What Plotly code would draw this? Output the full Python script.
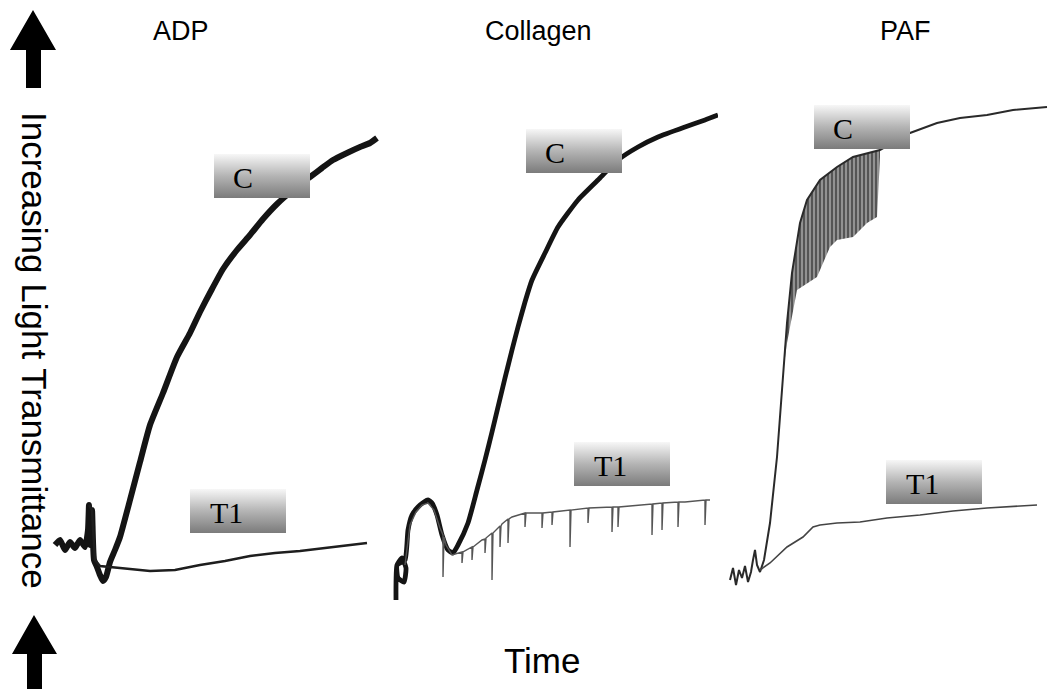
import plotly.graph_objects as go

W, H = 1048, 689

# ---------------- layout geometry (pixels) ----------------
PANEL_LEFT_PX = [52, 388, 718]
PANEL_W = 330
PLOT_TOP_PX, PLOT_BOTTOM_PX = 90, 605
Y_MAX = PLOT_BOTTOM_PX - PLOT_TOP_PX

panel_titles = ["ADP", "Collagen", "PAF"]
title_x_px = [181, 538, 905]

# ---------------- data (time a.u., transmittance a.u.) ----------------
adp_c_t = [3, 8, 13, 18, 23, 28, 33, 36, 37, 38, 40, 42, 45, 48, 51, 54, 58, 63, 68, 78, 88, 98, 111,
           125, 138, 148, 160, 171, 185, 198, 211, 225, 241, 258, 270, 281, 295, 308, 318, 325]
adp_c_v = [60, 65, 55, 63, 57, 65, 58, 75, 100, 60, 95, 45, 38, 30, 24, 28, 43, 55, 68, 105, 143, 180, 212,
           248, 272, 293, 316, 336, 355, 370, 386, 401, 415, 428, 437, 445, 452, 458, 462, 467]

adp_t1_t = [37, 40, 43, 48, 68, 98, 123, 148, 173, 198, 223, 248, 273, 298, 315]
adp_t1_v = [100, 95, 45, 39, 37, 34, 35, 40, 44, 49, 52, 54, 57, 60, 62]

col_c_t = [8, 9, 14, 18, 16, 10, 9, 17, 20, 24, 30, 36, 40, 44, 49, 54, 60, 65, 70, 80, 89, 97, 104, 110,
           117, 124, 130, 137, 144, 157, 170, 190, 210, 230, 250, 270, 297, 317, 330]
col_c_v = [5, 40, 47, 37, 23, 27, 40, 45, 75, 90, 98, 103, 105, 102, 90, 70, 55, 52, 60, 82, 115, 145, 173,
           198, 227, 255, 278, 303, 325, 352, 378, 405, 425, 445, 458, 468, 478, 485, 490]

col_t1_t = [17, 22, 28, 34, 40, 46, 52, 55, 55, 56, 58, 64, 74, 74, 75, 84, 84, 85, 94, 97, 97, 98, 104, 104,
            105, 112, 112, 113, 114, 120, 120, 121, 124, 137, 137, 138, 154, 154, 155, 164, 164, 165, 182,
            182, 183, 197, 200, 200, 201, 224, 224, 225, 230, 230, 231, 264, 264, 265, 274, 274, 275, 290,
            290, 291, 297, 317, 317, 318, 322]
col_t1_v = [40, 80, 93, 100, 102, 95, 77, 70, 28, 68, 60, 50, 53, 42, 53, 58, 45, 58, 65, 66, 52, 67, 72, 25,
            72, 79, 58, 79, 81, 86, 62, 86, 88, 92, 78, 92, 92, 77, 92, 93, 80, 93, 95,
            58, 95, 97, 97, 82, 97, 98, 73, 98, 98, 78, 98, 101, 70, 101, 102, 75, 102, 103,
            78, 103, 103, 105, 80, 105, 105]

paf_c_t = [12, 15, 18, 21, 24, 27, 30, 33, 35, 37, 39, 42, 46, 52, 59, 64, 69, 74, 82, 89, 102, 119, 135,
           162, 192, 219, 242, 269, 295, 329]
paf_c_v = [25, 37, 20, 35, 27, 39, 23, 33, 45, 55, 40, 33, 45, 82, 148, 215, 282, 332, 382, 405, 425, 438,
           448, 455, 472, 482, 487, 490, 495, 498]

# noisy band below the PAF control trace (upper edge / lower edge of the spikes)
paf_band_top_t = [66, 69, 74, 82, 89, 102, 119, 135, 162]
paf_band_top_v = [250, 282, 332, 382, 405, 425, 438, 448, 455]
paf_band_low_t = [66, 69, 79, 90, 99, 112, 119, 135, 149, 159, 162]
paf_band_low_v = [240, 262, 315, 322, 328, 358, 365, 368, 382, 388, 448]

paf_t1_t = [42, 52, 69, 85, 95, 102, 119, 142, 169, 202, 235, 269, 319]
paf_t1_v = [35, 42, 58, 68, 78, 80, 82, 83, 87, 90, 94, 97, 100]

# label boxes
box_panel = [0, 0, 1, 1, 2, 2]
box_text = ["C", "T1", "C", "T1", "C", "T1"]
box_t0 = [162, 138, 138, 186, 96, 168]
box_v0 = [407, 72, 432, 119, 456, 101]
BOX_W, BOX_H = 96, 44

# ---------------- figure ----------------
fig = go.Figure()
xaxes = ["x", "x2", "x3"]


def add_line(panel, t, v, width, color, shape="linear"):
    fig.add_trace(go.Scatter(x=t, y=v, mode="lines", xaxis=xaxes[panel], yaxis="y",
                             line=dict(color=color, width=width, shape=shape,
                                       smoothing=0.5 if shape == "spline" else None),
                             hoverinfo="skip"))


add_line(0, adp_c_t, adp_c_v, 6, "#141414", "spline")
add_line(0, adp_t1_t, adp_t1_v, 2.6, "#1e1e1e")

add_line(1, col_c_t, col_c_v, 4.8, "#141414", "spline")
add_line(1, col_t1_t, col_t1_v, 1.4, "#555555")

fig.add_trace(go.Scatter(x=paf_band_top_t + paf_band_low_t[::-1],
                         y=paf_band_top_v + paf_band_low_v[::-1],
                         mode="lines", fill="toself", fillcolor="rgba(90,90,90,0.75)",
                         fillpattern=dict(shape="|", fgcolor="#111111", bgcolor="rgba(110,110,110,0.7)",
                                          size=4, solidity=0.55),
                         line=dict(width=0),
                         xaxis="x3", yaxis="y", hoverinfo="skip"))
add_line(2, paf_c_t, paf_c_v, 2.0, "#2a2a2a")
add_line(2, paf_t1_t, paf_t1_v, 1.6, "#444444")

annotations = []
for p, txt, t0, v0 in zip(box_panel, box_text, box_t0, box_v0):
    fig.add_trace(go.Scatter(
        x=[t0, t0 + BOX_W, t0 + BOX_W, t0, t0],
        y=[v0, v0, v0 + BOX_H, v0 + BOX_H, v0],
        mode="lines", fill="toself", line=dict(width=0),
        fillgradient=dict(type="vertical",
                          colorscale=[[0, "#7b7b7b"], [0.5, "#b4b4b4"], [1, "#f7f7f7"]]),
        xaxis=xaxes[p], yaxis="y", hoverinfo="skip"))
    off = 29 if txt == "C" else 36
    annotations.append(dict(x=t0 + off, y=v0 + BOX_H / 2 - 1, xref=xaxes[p], yref="y",
                            text=txt, showarrow=False, xanchor="center", yanchor="middle",
                            font=dict(family="Liberation Serif", size=30, color="black")))


def px(xp):
    return xp / W


def py(yp):
    return (H - yp) / H


for title, tx in zip(panel_titles, title_x_px):
    annotations.append(dict(x=px(tx), y=py(31), xref="paper", yref="paper", text=title,
                            showarrow=False, xanchor="center", yanchor="middle",
                            font=dict(family="Liberation Sans", size=27, color="black")))

annotations.append(dict(x=px(542), y=py(660), xref="paper", yref="paper", text="Time",
                        showarrow=False, xanchor="center", yanchor="middle",
                        font=dict(family="Liberation Sans", size=35, color="black")))
annotations.append(dict(x=px(34), y=py(350), xref="paper", yref="paper",
                        text="Increasing Light Transmittance", textangle=90,
                        showarrow=False, xanchor="center", yanchor="middle",
                        font=dict(family="Liberation Sans", size=35, color="black")))


def arrow_path(pts):
    return "M " + " L ".join(f"{px(a):.5f},{py(b):.5f}" for a, b in pts) + " Z"


top_arrow = [(33, 10), (56, 50), (41, 50), (41, 88), (26, 88), (26, 50), (10, 50)]
bottom_arrow = [(34, 615), (57, 654), (42, 654), (42, 689), (27, 689), (27, 654), (12, 654)]
shapes = [dict(type="path", path=arrow_path(a), xref="paper", yref="paper",
               fillcolor="black", line=dict(width=0)) for a in (top_arrow, bottom_arrow)]

ax_common = dict(visible=False, showgrid=False, zeroline=False, range=[0, PANEL_W], anchor="y")
fig.update_layout(
    width=W, height=H, margin=dict(l=0, r=0, t=0, b=0),
    paper_bgcolor="white", plot_bgcolor="white", showlegend=False,
    xaxis=dict(domain=[px(PANEL_LEFT_PX[0]), px(PANEL_LEFT_PX[0] + PANEL_W)], **ax_common),
    xaxis2=dict(domain=[px(PANEL_LEFT_PX[1]), px(PANEL_LEFT_PX[1] + PANEL_W)], **ax_common),
    xaxis3=dict(domain=[px(PANEL_LEFT_PX[2]), min(1.0, px(PANEL_LEFT_PX[2] + PANEL_W))], **ax_common),
    yaxis=dict(domain=[py(PLOT_BOTTOM_PX), py(PLOT_TOP_PX)], range=[0, Y_MAX], visible=False,
               showgrid=False, zeroline=False, anchor="x"),
    annotations=annotations, shapes=shapes,
)

fig.write_html("out.html")
